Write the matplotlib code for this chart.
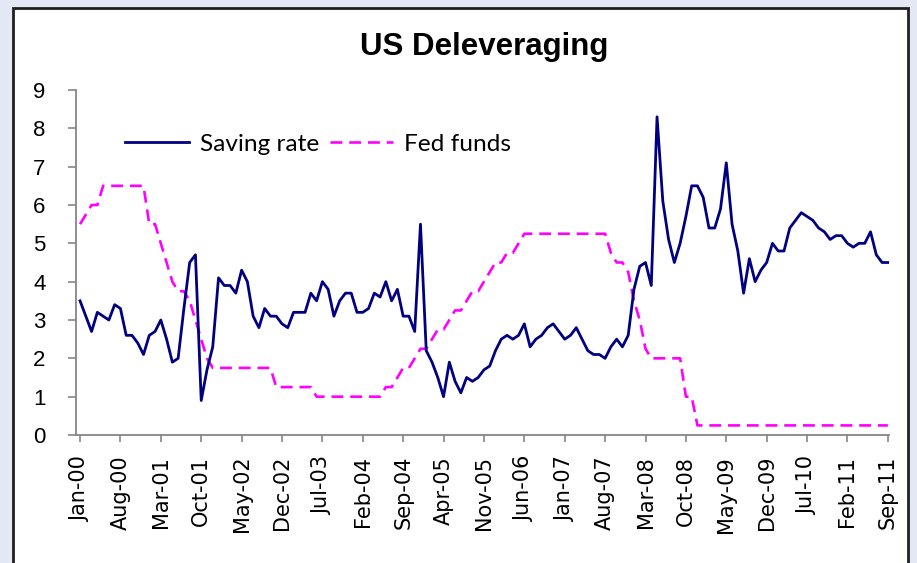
import numpy as np
import matplotlib
matplotlib.use("Agg")
import matplotlib.pyplot as plt
from matplotlib.patches import Rectangle

# monthly, Jan-00 .. Sep-11
saving_rate = [
    3.5, 3.1, 2.7, 3.2, 3.1, 3.0, 3.4, 3.3, 2.6, 2.6, 2.4, 2.1,   # 2000
    2.6, 2.7, 3.0, 2.5, 1.9, 2.0, 3.3, 4.5, 4.7, 0.9, 1.7, 2.3,   # 2001
    4.1, 3.9, 3.9, 3.7, 4.3, 4.0, 3.1, 2.8, 3.3, 3.1, 3.1, 2.9,   # 2002
    2.8, 3.2, 3.2, 3.2, 3.7, 3.5, 4.0, 3.8, 3.1, 3.5, 3.7, 3.7,   # 2003
    3.2, 3.2, 3.3, 3.7, 3.6, 4.0, 3.5, 3.8, 3.1, 3.1, 2.7, 5.5,   # 2004
    2.2, 1.9, 1.5, 1.0, 1.9, 1.4, 1.1, 1.5, 1.4, 1.5, 1.7, 1.8,   # 2005
    2.2, 2.5, 2.6, 2.5, 2.6, 2.9, 2.3, 2.5, 2.6, 2.8, 2.9, 2.7,   # 2006
    2.5, 2.6, 2.8, 2.5, 2.2, 2.1, 2.1, 2.0, 2.3, 2.5, 2.3, 2.6,   # 2007
    3.8, 4.4, 4.5, 3.9, 8.3, 6.1, 5.1, 4.5, 5.0, 5.7, 6.5, 6.5,   # 2008
    6.2, 5.4, 5.4, 5.9, 7.1, 5.5, 4.8, 3.7, 4.6, 4.0, 4.3, 4.5,   # 2009
    5.0, 4.8, 4.8, 5.4, 5.6, 5.8, 5.7, 5.6, 5.4, 5.3, 5.1, 5.2,   # 2010
    5.2, 5.0, 4.9, 5.0, 5.0, 5.3, 4.7, 4.5, 4.5,                 # 2011
]

fed_funds = (
    [5.5, 5.75, 6.0, 6.0] + [6.5] * 8 +
    [5.5, 5.5, 5.0, 4.5, 4.0, 3.75, 3.75, 3.5, 3.0, 2.5, 2.0, 1.75] +
    [1.75] * 10 + [1.25, 1.25] +
    [1.25] * 5 + [1.0] * 7 +
    [1.0] * 5 + [1.25, 1.25, 1.5, 1.75, 1.75, 2.0, 2.25] +
    [2.25, 2.5, 2.75, 2.75, 3.0, 3.25, 3.25, 3.5, 3.75, 3.75, 4.0, 4.25] +
    [4.5, 4.5, 4.75, 4.75, 5.0] + [5.25] * 7 +
    [5.25] * 8 + [4.75, 4.5, 4.5, 4.25] +
    [3.5, 3.0, 2.25] + [2.0] * 6 + [1.0, 1.0, 0.25] +
    [0.25] * 12 + [0.25] * 12 + [0.25] * 9
)

tick_labels = ["Jan-00", "Aug-00", "Mar-01", "Oct-01", "May-02", "Dec-02", "Jul-03",
               "Feb-04", "Sep-04", "Apr-05", "Nov-05", "Jun-06", "Jan-07", "Aug-07",
               "Mar-08", "Oct-08", "May-09", "Dec-09", "Jul-10", "Feb-11", "Sep-11"]

W, H = 917, 563
fig = plt.figure(figsize=(W / 100, H / 100), dpi=100, facecolor="#e4e8f5")

# white chart panel with dark border
fig.patches.append(Rectangle((13 / W, -0.05), (908 - 13) / W, 1.05 - 8 / H,
                             transform=fig.transFigure, facecolor="white",
                             edgecolor="#202020", linewidth=2.0, zorder=-5))

ax = fig.add_axes([76 / W, 1 - 435 / H, 813 / W, 345 / H])
ax.set_facecolor("none")
ax.set_zorder(2)

x = np.arange(len(saving_rate))
ax.plot(x, saving_rate, color="#000080", lw=2.0, label="Saving rate", zorder=3)
ax.plot(np.arange(len(fed_funds)), fed_funds, color="#ff00ff", lw=1.9,
        dashes=(4.5, 2.6), label="Fed funds", zorder=2)

ax.set_xlim(-0.7, 140.2)
ax.set_ylim(0, 9)
ax.set_yticks(range(0, 10))
ax.set_xticks(np.arange(0, 141, 7))
ax.set_xticklabels(tick_labels, rotation=90, fontsize=15, family="DejaVu Sans")
for lab in ax.get_yticklabels():
    lab.set_fontsize(16)
    lab.set_family("Liberation Sans")

for s in ["top", "right"]:
    ax.spines[s].set_visible(False)
for s in ["left", "bottom"]:
    ax.spines[s].set_color("#868686")
    ax.spines[s].set_linewidth(1.3)
ax.tick_params(axis="y", direction="out", length=6, width=1.2, color="#868686", pad=16)
ax.tick_params(axis="x", direction="out", length=5, width=1.2, color="#868686", pad=10)

fig.text(484 / W, 1 - 47 / H, "US Deleveraging", ha="center", va="center",
         fontsize=22.5, fontweight="bold", family="Liberation Sans")

ax.legend(loc="center left", bbox_to_anchor=(125 / W, 1 - 144 / H),
          bbox_transform=fig.transFigure, ncol=2,
          frameon=False, prop={"family": "Lato", "size": 17.6},
          handlelength=2.6, handletextpad=0.45, columnspacing=0.45,
          borderpad=0, borderaxespad=0)

fig.savefig("out.png", dpi=100, facecolor=fig.get_facecolor())
